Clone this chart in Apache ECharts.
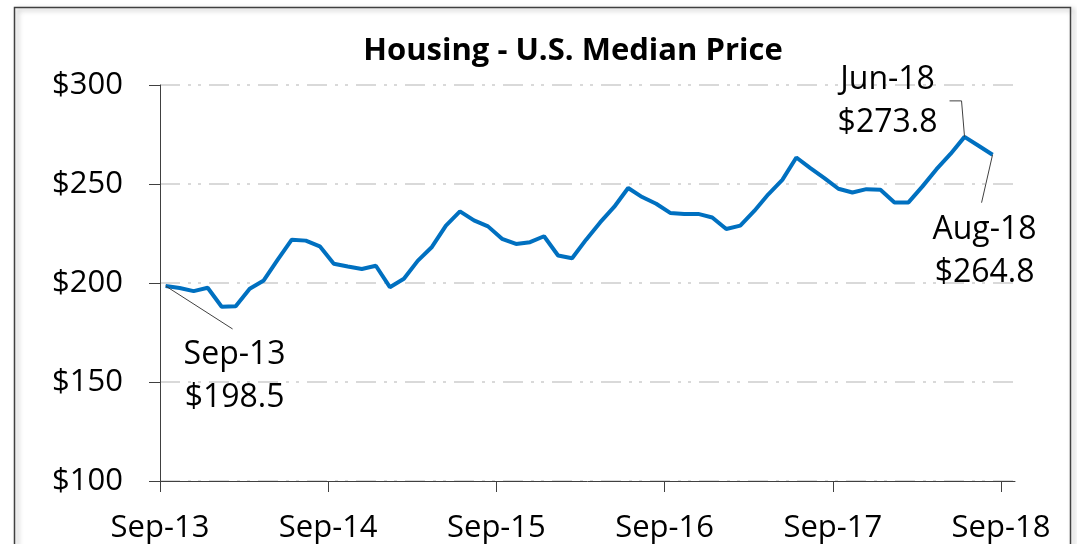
<!DOCTYPE html>
<html>
<head>
<meta charset="utf-8">
<script src="https://cdn.jsdelivr.net/npm/echarts@6/dist/echarts.min.js"></script>
<style>
html, body { margin: 0; padding: 0; background: #fff; }
#chart { width: 1077px; height: 544px; }
</style>
</head>
<body>
<div id="chart"></div>
<script>
var chart = echarts.init(document.getElementById('chart'));

// monthly median price, thousands of $
var months = [
    'Sep-13', 'Oct-13', 'Nov-13', 'Dec-13', 'Jan-14', 'Feb-14', 'Mar-14', 'Apr-14', 'May-14', 'Jun-14', 'Jul-14', 'Aug-14',
    'Sep-14', 'Oct-14', 'Nov-14', 'Dec-14', 'Jan-15', 'Feb-15', 'Mar-15', 'Apr-15', 'May-15', 'Jun-15', 'Jul-15', 'Aug-15',
    'Sep-15', 'Oct-15', 'Nov-15', 'Dec-15', 'Jan-16', 'Feb-16', 'Mar-16', 'Apr-16', 'May-16', 'Jun-16', 'Jul-16', 'Aug-16',
    'Sep-16', 'Oct-16', 'Nov-16', 'Dec-16', 'Jan-17', 'Feb-17', 'Mar-17', 'Apr-17', 'May-17', 'Jun-17', 'Jul-17', 'Aug-17',
    'Sep-17', 'Oct-17', 'Nov-17', 'Dec-17', 'Jan-18', 'Feb-18', 'Mar-18', 'Apr-18', 'May-18', 'Jun-18', 'Jul-18', 'Aug-18'
];
var prices = [
    198.5, 197.5, 195.9, 197.6, 188.0, 188.3, 197.1, 201.3, 211.8, 221.9, 221.4, 218.5,
    209.7, 208.3, 207.1, 208.7, 197.9, 202.1, 211.3, 218.2, 229.0, 236.2, 231.6, 228.6,
    222.3, 219.7, 220.6, 223.6, 213.9, 212.5, 221.9, 230.6, 238.4, 248.0, 243.4, 240.0,
    235.4, 234.9, 234.9, 233.1, 227.3, 229.0, 236.4, 244.8, 252.1, 263.4, 258.0, 253.0,
    247.6, 245.7, 247.4, 247.1, 240.7, 240.7, 248.8, 257.5, 265.2, 273.8, 269.3, 264.8
];
var tickLabels = ['Sep-13', 'Sep-14', 'Sep-15', 'Sep-16', 'Sep-17', 'Sep-18'];
var tickMonths = [0, 12, 24, 36, 48, 60];
var annotated = ['Sep-13', 'Jun-18', 'Aug-18'];

var FONT = '"Open Sans", "Noto Sans", sans-serif';
var shift = 0.4; // points sit a little after the month tick

var seriesData = prices.map(function (v, i) {
    return [i + shift, v];
});

option = {
    animation: false,
    grid: {
        left: 160,
        right: 62,
        top: 85,
        bottom: 62
    },
    xAxis: {
        type: 'value',
        min: 0,
        max: 61,
        splitLine: { show: false },
        axisLine: { lineStyle: { color: '#404040', width: 1 } },
        axisTick: {
            customValues: tickMonths,
            length: 11,
            lineStyle: { color: '#404040' }
        },
        axisLabel: {
            customValues: tickMonths,
            margin: 32,
            color: '#000',
            fontSize: 31,
            fontFamily: FONT,
            formatter: function (v) {
                return tickLabels[tickMonths.indexOf(v)];
            }
        }
    },
    yAxis: {
        type: 'value',
        min: 100,
        max: 300,
        interval: 50,
        axisLine: { show: true, lineStyle: { color: '#404040', width: 1 } },
        axisTick: { show: true, length: 11, lineStyle: { color: '#404040' } },
        axisLabel: {
            margin: 37,
            color: '#000',
            fontSize: 31,
            fontFamily: FONT,
            formatter: '${value}'
        },
        splitLine: {
            lineStyle: {
                color: '#d9d9d9',
                width: 2,
                type: [20, 8, 3, 7, 3, 8]
            }
        }
    },
    series: [{
        name: 'Median Price',
        type: 'line',
        data: seriesData,
        symbol: 'none',
        lineStyle: { color: '#0070C0', width: 4 },
        z: 5
    }]
};

chart.setOption(option);

// annotation placement, pixels from the data point
var notes = {
    'Sep-13': { dx: 69, dy: 47, lead: [[67, 43]] },
    'Jun-18': { dx: -77, dy: -78, lead: [[-3, -36], [-15, -36]] },
    'Aug-18': { dx: -8, dy: 54, lead: [[-11, 48]] }
};

var graphics = [{
    type: 'rect',
    shape: { x: 14.5, y: 7.5, width: 1056, height: 580 },
    style: {
        fill: null,
        stroke: '#404040',
        lineWidth: 1.5,
        shadowBlur: 5,
        shadowOffsetX: 3,
        shadowOffsetY: 2,
        shadowColor: 'rgba(0,0,0,0.35)'
    },
    z: 100
}, {
    type: 'text',
    x: 573,
    y: 51,
    style: {
        text: 'Housing - U.S. Median Price',
        font: 'bold 31px ' + FONT,
        fill: '#000',
        align: 'center',
        verticalAlign: 'middle'
    }
}];

annotated.forEach(function (m) {
    var i = months.indexOf(m);
    var p = chart.convertToPixel({ gridIndex: 0 }, [i + shift, prices[i]]);
    var n = notes[m];
    var pts = [[p[0], p[1]]].concat(n.lead.map(function (d) {
        return [p[0] + d[0], p[1] + d[1]];
    }));
    graphics.push({
        type: 'polyline',
        shape: { points: pts },
        style: { stroke: '#404040', lineWidth: 1, fill: null },
        z: 10
    });
    graphics.push({
        type: 'text',
        x: p[0] + n.dx,
        y: p[1] + n.dy,
        style: {
            text: m + '\n$' + prices[i].toFixed(1),
            font: '32px ' + FONT,
            lineHeight: 43,
            fill: '#000',
            align: 'center',
            verticalAlign: 'top'
        },
        z: 10
    });
});

chart.setOption({ graphic: graphics });
</script>
</body>
</html>
